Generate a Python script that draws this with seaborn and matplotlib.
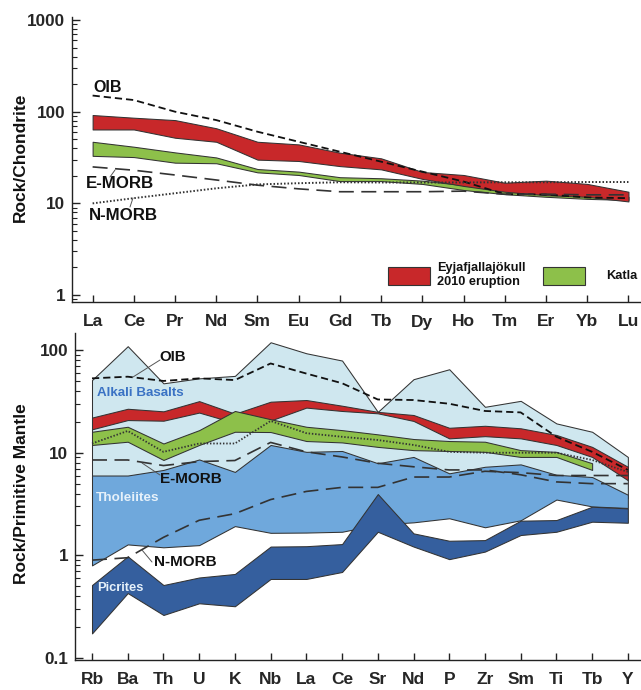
import numpy as np
import pandas as pd
import matplotlib
matplotlib.use("Agg")
import matplotlib.pyplot as plt
import seaborn as sns
from matplotlib.lines import Line2D
from matplotlib.patches import Rectangle
from matplotlib.ticker import LogLocator, NullFormatter

# ---------------- data: chondrite-normalised REE (top panel) ----------------
ree = ["La", "Ce", "Pr", "Nd", "Sm", "Eu", "Gd", "Tb", "Dy", "Ho", "Tm", "Er", "Yb", "Lu"]
eyja_top = [92, 86, 81, 66, 47, 44, 35.7, 31, 22, 20.4, 16.8, 17.7, 16.3, 13.4]
eyja_bot = [64, 64, 52, 47, 30, 29, 25.5, 23.5, 18.5, 15.5, 13.4, 12.3, 11.8, 10.5]
katla_top = [47, 41.5, 36, 31.7, 23.7, 22.2, 19.3, 18.8, 17.7, 15.8, 14.3, 12.9, 12.0, 11.8]
katla_bot = [33, 32, 27.8, 27.4, 21.8, 20.4, 17.5, 17.5, 16.3, 14.0, 12.6, 11.8, 11.2, 10.9]
oib_c = [150, 134, 100, 81, 60.5, 47, 36.6, 28.5, 22.2, 17.3, 12.6, 12.5, 11.6, 11.4]
emorb_c = [25, 23, 20.4, 18, 15.8, 14.4, 13.4, 13.4, 13.4, 13.6, 12.6, 12.6, 12.4, 12.4]
nmorb_c = [10, 11.4, 12.9, 14.6, 16.1, 16.6, 17, 16.9, 16.9, 16.9, 17, 17, 17.1, 17.1]

# ---------------- data: primitive-mantle-normalised (bottom panel) ----------------
spider = ["Rb", "Ba", "Th", "U", "K", "Nb", "La", "Ce", "Sr", "Nd", "P", "Zr", "Sm", "Ti", "Tb", "Y"]
alk_top = [51, 109, 47.4, 53, 56, 119, 93, 79, 25, 52, 65, 28, 32, 19.3, 16, 9.1]
alk_bot = [5.5, 5.5, 6.2, 7.8, 6.0, 10.5, 9.2, 9.2, 7.2, 8.2, 5.8, 6.6, 7.0, 5.6, 5.2, 3.6]
thol_top = [6.0, 6.0, 6.8, 8.6, 6.5, 11.9, 10.2, 10.4, 7.9, 9.1, 6.3, 7.3, 7.7, 6.1, 5.8, 3.9]
thol_bot = [0.8, 1.28, 1.2, 1.26, 1.93, 1.66, 1.67, 1.70, 2.0, 2.1, 2.3, 1.88, 2.2, 3.5, 3.0, 2.9]
pic_top = [0.515, 0.98, 0.515, 0.61, 0.66, 1.22, 1.23, 1.29, 3.96, 1.64, 1.39, 1.41, 2.18, 2.21, 2.98, 2.87]
pic_bot = [0.174, 0.43, 0.263, 0.342, 0.32, 0.59, 0.59, 0.69, 1.70, 1.22, 0.92, 1.09, 1.58, 1.70, 2.13, 2.08]
eyja_pm_top = [22, 26.8, 25.3, 31.8, 24, 31.4, 32.6, 28.7, 25, 23.3, 17.5, 18.3, 17.3, 14.9, 11.4, 7.3]
eyja_pm_bot = [16.9, 20.8, 20.5, 24.6, 19.5, 20.6, 27.5, 25.5, 24.2, 20.4, 13.8, 14.5, 13.8, 11.9, 9.1, 5.4]
katla_pm_top = [16, 17.9, 12.3, 16.6, 25.5, 21.2, 17.9, 16.6, 15.1, 13.6, 13, 12.8, 10.6, 10.2, 7.9, np.nan]
katla_pm_bot = [11.9, 12.8, 8.5, 11.9, 16, 15.9, 13, 12.6, 11.4, 10.6, 10.4, 10.2, 9.1, 9.1, 6.8, np.nan]
oib_pm = [53, 55, 50, 53, 51, 74, 59, 47.5, 33, 32.6, 30, 25.5, 24.7, 14.3, 10.2, 6.8]
emorb_pm = [8.5, 8.5, 7.5, 8.2, 8.4, 12.6, 10.2, 9.1, 7.9, 7.3, 6.8, 6.8, 6.1, 5.2, 5.0, 5.0]
nmorb_pm = [0.9, 0.95, 1.5, 2.2, 2.55, 3.5, 4.2, 4.6, 4.6, 5.8, 5.8, 6.6, 6.4, 6.0, 6.0, 6.0]
dotted_pm = [12.3, 16.3, 10.2, 12.3, 12.3, 20.4, 15.5, 14.3, 13.3, 11.9, 10.2, 10.0, 10.0, 10.0, 8.5, 6.5]

# ---------------- style ----------------
sns.set_theme(style="white")
plt.rcParams["font.family"] = ["Liberation Sans", "DejaVu Sans"]
plt.rcParams["font.weight"] = "bold"
plt.rcParams["axes.labelweight"] = "bold"

RED = "#c8282a"
GREEN = "#8dc04a"
LIGHT = "#cfe7ef"
MID = "#6fa8dc"
DARK = "#355f9e"
EDGE = "#333333"

W, H = 641, 690
def fx(x):
    return x / W
def fy(y):
    return 1 - y / H

fig = plt.figure(figsize=(6.41, 6.9), dpi=100)
ax1 = fig.add_axes([fx(72), fy(302), fx(640) - fx(72), fy(17) - fy(302)])
ax2 = fig.add_axes([fx(75), fy(660), fx(640) - fx(75), fy(333) - fy(660)])
for ax in (ax1, ax2):
    ax.set_yscale("log")


def band(ax, lo, hi, color, z):
    df = pd.DataFrame({"x": np.arange(len(lo)), "lo": lo, "hi": hi}).dropna()
    ax.fill_between(df["x"], df["lo"], df["hi"], facecolor=color, edgecolor=EDGE,
                    linewidth=0.75, zorder=z)


def ref_line(ax, vals, ls, lw, color, z):
    df = pd.DataFrame({"x": np.arange(len(vals)), "y": vals})
    sns.lineplot(data=df, x="x", y="y", ax=ax, estimator=None, sort=False,
                 color=color, linestyle=ls, linewidth=lw, zorder=z)


# ---- top panel ----
band(ax1, katla_bot, katla_top, GREEN, 2)
band(ax1, eyja_bot, eyja_top, RED, 3)
ref_line(ax1, oib_c, (0, (4, 2.2)), 1.3, "#111111", 5)
ref_line(ax1, emorb_c, (0, (9, 4.5)), 1.2, "#333333", 5)
ref_line(ax1, nmorb_c, (0, (0.8, 1.0)), 1.4, "#333333", 5)

# ---- bottom panel ----
band(ax2, alk_bot, alk_top, LIGHT, 1)
band(ax2, thol_bot, thol_top, MID, 2)
band(ax2, pic_bot, pic_top, DARK, 3)
band(ax2, eyja_pm_bot, eyja_pm_top, RED, 4)
band(ax2, katla_pm_bot, katla_pm_top, GREEN, 5)
ref_line(ax2, oib_pm, (0, (4, 2.2)), 1.3, "#111111", 6)
ref_line(ax2, emorb_pm, (0, (9, 4.5)), 1.2, "#333333", 6)
ref_line(ax2, nmorb_pm, (0, (9, 4.5)), 1.2, "#333333", 6)
ref_line(ax2, dotted_pm, (0, (0.8, 1.0)), 1.3, "#333333", 6)


def style_axes(ax, cats, xlim, ylim, ticks, labels):
    ax.set_xlim(*xlim)
    ax.set_ylim(*ylim)
    ax.set_xlabel("")
    ax.set_ylabel("")
    ax.set_xticks(np.arange(len(cats)))
    ax.set_xticklabels(cats)
    ax.set_yticks(ticks)
    ax.set_yticklabels(labels)
    ax.yaxis.set_minor_locator(LogLocator(base=10, subs=np.arange(2, 10)))
    ax.yaxis.set_minor_formatter(NullFormatter())
    for s in ("top", "right"):
        ax.spines[s].set_visible(False)
    for s in ("left", "bottom"):
        ax.spines[s].set_color("#222222")
        ax.spines[s].set_linewidth(1.0)
    ax.tick_params(axis="both", which="both", direction="in", color="#222222",
                   left=True, bottom=True)
    ax.tick_params(axis="y", which="major", length=6, width=1.0, pad=5, labelsize=12.3)
    ax.tick_params(axis="y", which="minor", length=3.5, width=0.8)
    ax.tick_params(axis="x", which="major", length=5, width=1.0, pad=9, labelsize=12.5)
    ax.tick_params(axis="x", which="minor", bottom=False)
    ax.set_facecolor("white")


style_axes(ax1, ree, (-0.5, 13.28), (0.84, 1079), [1, 10, 100, 1000], ["1", "10", "100", "1000"])
style_axes(ax2, spider, (-0.476, 15.34), (0.0959, 146.5), [0.1, 1, 10, 100], ["0.1", "1", "10", "100"])

# axis titles
fig.text(fx(20), fy(157), "Rock/Chondrite", rotation=90, ha="center", va="center",
         fontsize=12.5, fontweight="bold", color="#111111")
fig.text(fx(22), fy(494), "Rock/Primitive Mantle", rotation=90, ha="center", va="center",
         fontsize=12.5, fontweight="bold", color="#111111")

# top annotations
fig.text(fx(107.5), fy(87), "OIB", ha="center", va="center", fontsize=11.5, color="#111111")
fig.text(fx(120), fy(184), "E-MORB", ha="center", va="center", fontsize=12.2, color="#111111")
fig.text(fx(123), fy(215), "N-MORB", ha="center", va="center", fontsize=12.2, color="#111111")
for (x0, y0, x1, y1) in [(115, 170, 110, 177), (133, 198, 130, 207)]:
    fig.add_artist(Line2D([fx(x0), fx(x1)], [fy(y0), fy(y1)], transform=fig.transFigure,
                          color="#555555", lw=0.7))

# legend
fig.add_artist(Rectangle((fx(388), fy(285)), fx(430) - fx(388), fy(267) - fy(285),
                         transform=fig.transFigure, facecolor=RED, edgecolor=EDGE, lw=0.8))
fig.add_artist(Rectangle((fx(543), fy(285)), fx(585) - fx(543), fy(267) - fy(285),
                         transform=fig.transFigure, facecolor=GREEN, edgecolor=EDGE, lw=0.8))
fig.text(fx(437), fy(275), "Eyjafjallajökull\n2010 eruption", ha="left", va="center",
         fontsize=9.2, linespacing=1.15, color="#111111")
fig.text(fx(606), fy(276), "Katla", ha="left", va="center", fontsize=9.2, color="#111111")

# bottom annotations
fig.text(fx(173), fy(357), "OIB", ha="center", va="center", fontsize=10.8, color="#111111")
fig.text(fx(140), fy(393), "Alkali Basalts", ha="center", va="center", fontsize=9.6,
         color="#3a72c4")
fig.text(fx(191), fy(479), "E-MORB", ha="center", va="center", fontsize=11, color="#111111")
fig.text(fx(128), fy(498), "Tholeiites", ha="center", va="center", fontsize=9.7,
         color="#e6f1fa")
fig.text(fx(185), fy(562), "N-MORB", ha="center", va="center", fontsize=11, color="#111111")
fig.text(fx(120), fy(588), "Picrites", ha="center", va="center", fontsize=9.3,
         color="#e6f1fa")
for (x0, y0, x1, y1) in [(133, 377, 160, 360), (142, 463, 160, 475), (142, 550, 152, 562)]:
    fig.add_artist(Line2D([fx(x0), fx(x1)], [fy(y0), fy(y1)], transform=fig.transFigure,
                          color="#555555", lw=0.7))

fig.savefig("out.png", dpi=100)
